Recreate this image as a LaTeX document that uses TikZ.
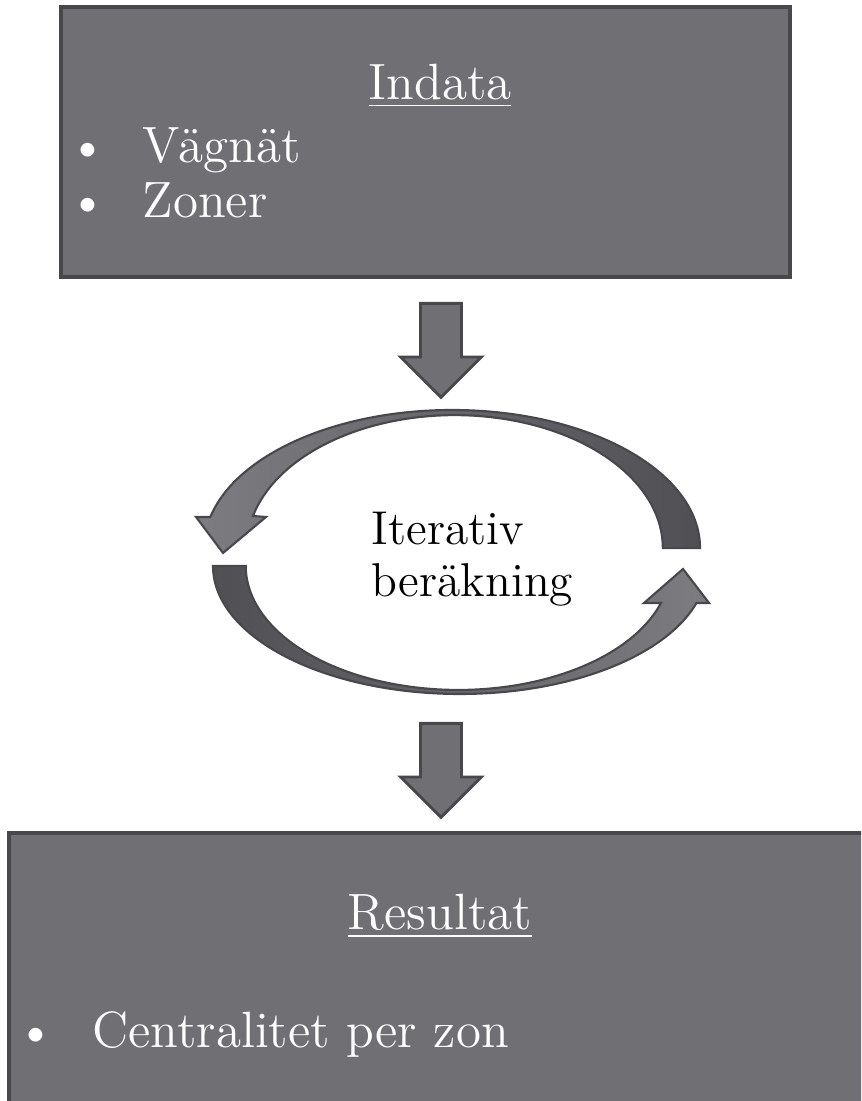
\documentclass[tikz,border=0pt]{standalone}
\usepackage{tikz}
\usetikzlibrary{shapes.arrows}

\definecolor{boxgray}{RGB}{112,111,116}
\definecolor{edgegray}{RGB}{72,72,76}
\definecolor{loopdark}{RGB}{80,79,84}
\definecolor{looplight}{RGB}{125,124,129}

\tikzset{
    panel/.style={draw=edgegray, line width=1.2pt, fill=boxgray, inner sep=0pt},
    downarrow/.style={single arrow, rotate=-90, anchor=tail, draw=edgegray, line width=0.8pt, fill=boxgray,
        minimum height=0.94cm, minimum width=0.78cm, single arrow head extend=0.2cm,
        single arrow head indent=0pt, inner xsep=0pt, inner ysep=0.19cm},
    boxtext/.style={text=white, font=\fontsize{14.5}{17}\selectfont, inner sep=0pt},
    looptext/.style={font=\fontsize{13.5}{16}\selectfont, inner sep=0pt, anchor=base west}
}

\begin{document}
\begin{tikzpicture}[x=0.01cm, y=0.01cm]
        \clip (0, 0) rectangle (861, 1101);
        \fill [white] (0, 0) rectangle (861, 1101);

        \node [panel, minimum width=7.29cm, minimum height=2.70cm] (indata) at (425.5, 959) {};
        \node [boxtext, anchor=base] (indatahead) at (440, 1001) {\underline{Indata}};
        \node [boxtext, anchor=base] at (88, 938) {\textbullet};
        \node [boxtext, anchor=base west] (vagnat) at (142, 938) {Vägnät};
        \node [boxtext, anchor=base] at (88, 883) {\textbullet};
        \node [boxtext, anchor=base west] (zoner) at (142, 883) {Zoner};

        \node [downarrow] (inarrow) at (441, 799) {};

        \shade [left color=looplight, right color=loopdark, draw=edgegray, line width=0.6pt]
            (700, 553) arc [start angle=0, end angle=167, x radius=248, y radius=138]
            -- (196, 584) -- (223, 548) -- (266, 584) -- (253, 585)
            arc [start angle=166, end angle=0, x radius=208, y radius=133] -- cycle;
        \shade [left color=loopdark, right color=looplight, draw=edgegray, line width=0.6pt]
            (213, 535) arc [start angle=180, end angle=343.2, x radius=247, y radius=128]
            -- (709, 498) -- (683, 532) -- (644, 498) -- (661, 498)
            arc [start angle=342.6, end angle=180, x radius=212.5, y radius=124] -- cycle;

        \node [looptext] (iterativ) at (371, 556) {Iterativ};
        \node [looptext] (berakning) at (371, 504) {beräkning};

        \node [downarrow] (outarrow) at (441, 379) {};

        \node [panel, minimum width=8.70cm, minimum height=2.80cm] (resultat) at (444, 128) {};
        \node [boxtext, anchor=base] (resultathead) at (440, 171) {\underline{Resultat}};
        \node [boxtext, anchor=base] at (36, 54) {\textbullet};
        \node [boxtext, anchor=base west] (central) at (92, 54) {Centralitet per zon};
    \end{tikzpicture}
\end{document}
